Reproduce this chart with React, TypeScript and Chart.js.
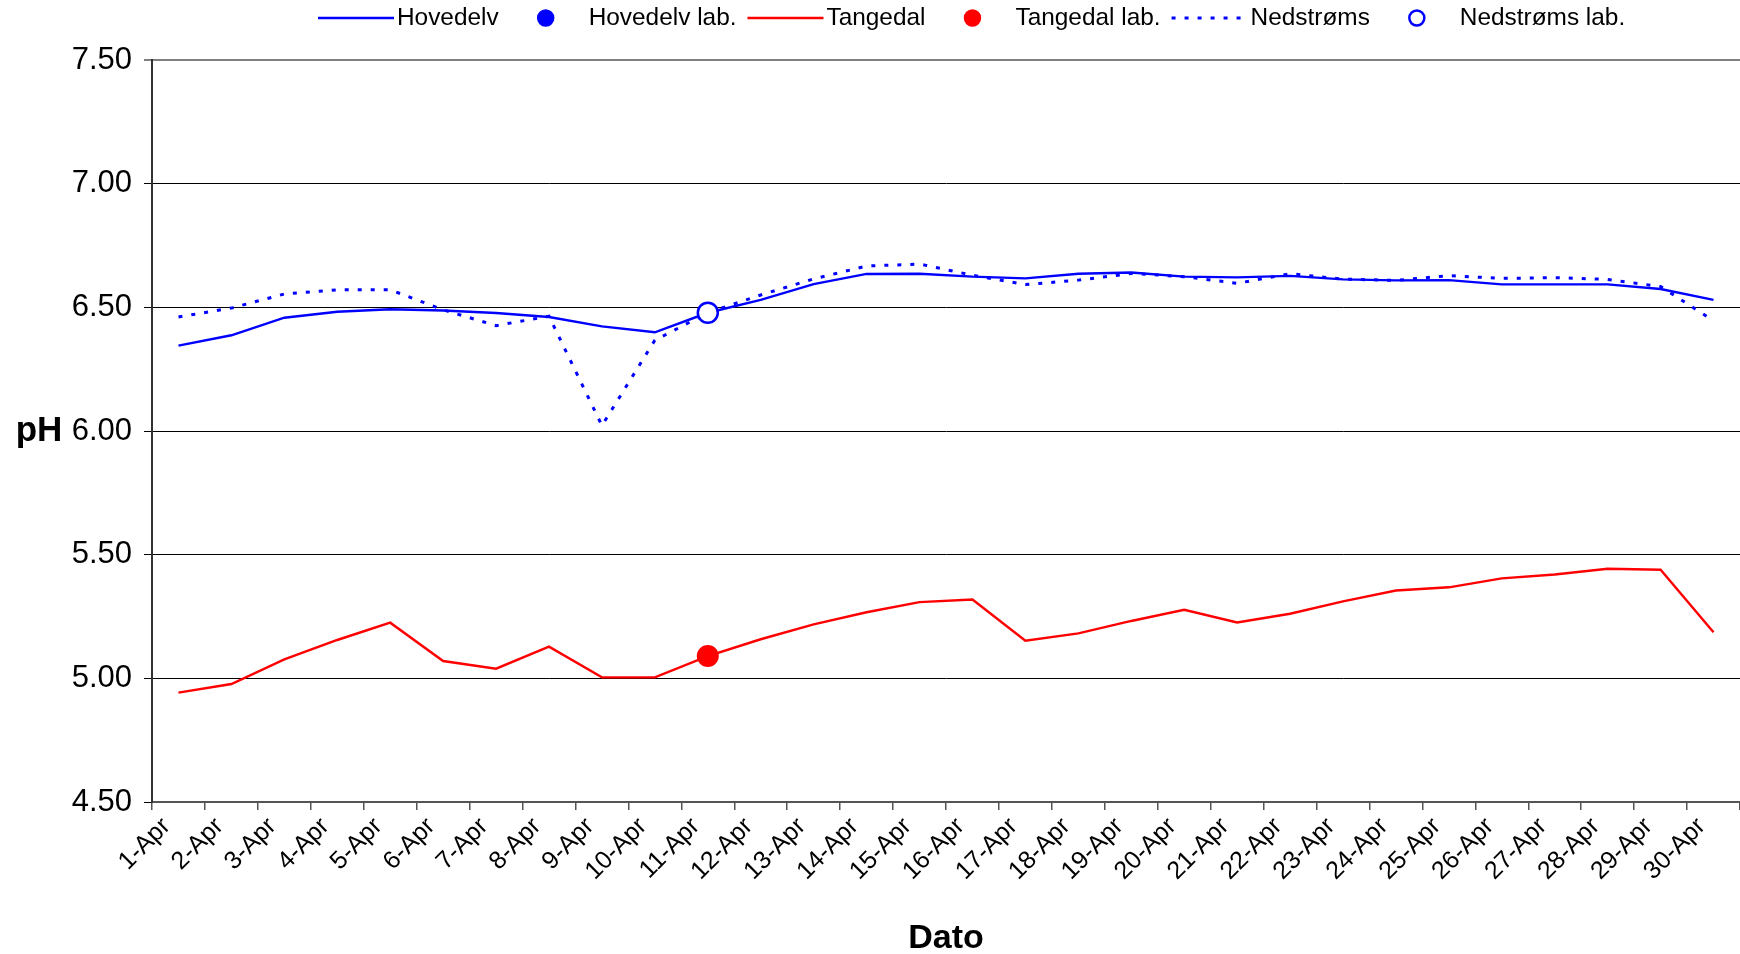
import React, { useEffect, useRef } from "react";
import { Chart, registerables } from "chart.js";

Chart.register(...registerables);

const categories = [
  "1-Apr", "2-Apr", "3-Apr", "4-Apr", "5-Apr", "6-Apr", "7-Apr", "8-Apr", "9-Apr", "10-Apr",
  "11-Apr", "12-Apr", "13-Apr", "14-Apr", "15-Apr", "16-Apr", "17-Apr", "18-Apr", "19-Apr", "20-Apr",
  "21-Apr", "22-Apr", "23-Apr", "24-Apr", "25-Apr", "26-Apr", "27-Apr", "28-Apr", "29-Apr", "30-Apr",
];

const hovedelv = [
  6.345, 6.387, 6.458, 6.482, 6.492, 6.487, 6.477, 6.461, 6.423, 6.399,
  6.478, 6.53, 6.594, 6.635, 6.636, 6.624, 6.617, 6.636, 6.641, 6.624,
  6.621, 6.627, 6.613, 6.609, 6.61, 6.593, 6.593, 6.593, 6.574, 6.53,
];

const hovedelvLab: (number | null)[] = categories.map(() => null);

const tangedal = [
  4.942, 4.977, 5.077, 5.155, 5.225, 5.07, 5.039, 5.128, 5.004, 5.004,
  5.09, 5.158, 5.218, 5.267, 5.308, 5.319, 5.152, 5.182, 5.232, 5.277,
  5.226, 5.261, 5.311, 5.355, 5.368, 5.404, 5.42, 5.443, 5.439, 5.186,
];

const tangedalLab: (number | null)[] = [
  null, null, null, null, null, null, null, null, null, null,
  5.09, null, null, null, null, null, null, null, null, null,
  null, null, null, null, null, null, null, null, null, null,
];

const nedstroms = [
  6.461, 6.497, 6.554, 6.571, 6.571, 6.49, 6.426, 6.464, 6.022, 6.367,
  6.478, 6.55, 6.615, 6.667, 6.675, 6.63, 6.592, 6.61, 6.637, 6.624,
  6.597, 6.636, 6.614, 6.609, 6.628, 6.617, 6.62, 6.613, 6.584, 6.446,
];

const nedstromsLab: (number | null)[] = [
  null, null, null, null, null, null, null, null, null, null,
  6.478, null, null, null, null, null, null, null, null, null,
  null, null, null, null, null, null, null, null, null, null,
];

const yMin = 4.5;
const yMax = 7.5;
const yStep = 0.5;

const FONT = "'Liberation Sans', Arial, sans-serif";

const customLegend = {
  id: "customLegend",
  afterDraw(chart: any) {
    const ctx = chart.ctx;
    ctx.save();
    ctx.font = `24.4px ${FONT}`;
    ctx.textBaseline = "middle";
    ctx.textAlign = "left";
    let x = 318;
    const y = 18;
    chart.data.datasets.forEach((ds: any) => {
      const sampleW = 76;
      if (ds.showLine === false) {
        ctx.beginPath();
        ctx.setLineDash([]);
        ctx.lineWidth = 2.5;
        ctx.arc(x + 36, y, 7.5, 0, Math.PI * 2);
        ctx.fillStyle = ds.pointBackgroundColor;
        ctx.fill();
        ctx.strokeStyle = ds.borderColor;
        ctx.stroke();
      } else {
        ctx.beginPath();
        ctx.setLineDash(ds.borderDash || []);
        ctx.lineWidth = ds.borderWidth;
        ctx.strokeStyle = ds.borderColor;
        ctx.moveTo(x, y);
        ctx.lineTo(x + sampleW, y);
        ctx.stroke();
        ctx.setLineDash([]);
      }
      ctx.fillStyle = "#000";
      const tx = x + sampleW + 3;
      ctx.fillText(ds.label, tx, y);
      x = tx + ctx.measureText(ds.label).width + 11;
    });
    ctx.restore();
  },
};

const yTitle = {
  id: "yTitle",
  afterDraw(chart: any) {
    const ctx = chart.ctx;
    const ys = chart.scales.y;
    ctx.save();
    ctx.font = `bold 35px ${FONT}`;
    ctx.fillStyle = "#000";
    ctx.textAlign = "center";
    ctx.textBaseline = "middle";
    ctx.fillText("pH", 39, ys.getPixelForValue(6));
    ctx.restore();
  },
};

const noPad = () => ({ left: 0, top: 0, right: 0, bottom: 0 });

export default function App() {
  const ref = useRef<HTMLCanvasElement | null>(null);

  useEffect(() => {
    if (!ref.current) return;
    const chart = new Chart(ref.current, {
      type: "line",
      data: {
        labels: categories,
        datasets: [
          {
            label: "Hovedelv",
            data: hovedelv,
            borderColor: "#0000FF",
            backgroundColor: "#0000FF",
            borderWidth: 2.4,
            pointRadius: 0,
            tension: 0,
            order: 5,
          },
          {
            label: "Hovedelv lab.",
            data: hovedelvLab,
            showLine: false,
            borderColor: "#0000FF",
            backgroundColor: "#0000FF",
            pointBackgroundColor: "#0000FF",
            pointBorderColor: "#0000FF",
            pointRadius: 10,
            borderWidth: 2.5,
            order: 2,
          },
          {
            label: "Tangedal",
            data: tangedal,
            borderColor: "#FF0000",
            backgroundColor: "#FF0000",
            borderWidth: 2.4,
            pointRadius: 0,
            tension: 0,
            order: 4,
          },
          {
            label: "Tangedal lab.",
            data: tangedalLab,
            showLine: false,
            borderColor: "#FF0000",
            backgroundColor: "#FF0000",
            pointBackgroundColor: "#FF0000",
            pointBorderColor: "#FF0000",
            pointRadius: 10,
            borderWidth: 2,
            order: 1,
          },
          {
            label: "Nedstrøms",
            data: nedstroms,
            borderColor: "#0000FF",
            backgroundColor: "#0000FF",
            borderWidth: 3,
            borderDash: [4, 9],
            pointRadius: 0,
            tension: 0,
            order: 3,
          },
          {
            label: "Nedstrøms lab.",
            data: nedstromsLab,
            showLine: false,
            borderColor: "#0000FF",
            backgroundColor: "#FFFFFF",
            pointBackgroundColor: "#FFFFFF",
            pointBorderColor: "#0000FF",
            pointRadius: 10,
            pointBorderWidth: 2.5,
            borderWidth: 2.5,
            order: 0,
          },
        ] as any,
      },
      options: {
        animation: false,
        responsive: false,
        devicePixelRatio: 1,
        layout: { autoPadding: false, padding: { top: 60, left: 0, right: 0, bottom: 0 } },
        plugins: {
          legend: { display: false },
          tooltip: { enabled: false },
        },
        scales: {
          x: {
            type: "category",
            offset: true,
            afterFit: (s: any) => {
              s.height = 152;
              s.paddingLeft = 0;
              s.paddingRight = 0;
              s.getPadding = noPad;
            },
            grid: {
              display: true,
              drawOnChartArea: false,
              drawTicks: true,
              tickLength: 8,
              offset: true,
              color: "#555",
              lineWidth: 1.5,
            },
            border: { display: true, color: "#555", width: 2 },
            ticks: {
              autoSkip: false,
              minRotation: 45,
              maxRotation: 45,
              labelOffset: -12,
              padding: 2,
              color: "#000",
              font: { family: FONT, size: 25 },
            },
            title: {
              display: true,
              text: "Dato",
              color: "#000",
              font: { family: FONT, size: 34, weight: "bold", lineHeight: 1.0 },
              padding: { top: 0, bottom: -2 },
            },
          },
          y: {
            min: yMin,
            max: yMax,
            afterFit: (s: any) => {
              s.width = 152;
              s.getPadding = () => ({ left: 0, top: s.paddingTop || 0, right: 0, bottom: s.paddingBottom || 0 });
            },
            grid: {
              color: (c: any) => (c.tick && c.tick.value === yMax ? "#808080" : "#000"),
              lineWidth: (c: any) => (c.tick && c.tick.value === yMax ? 2 : 1),
              drawTicks: true,
              tickLength: 8,
            },
            border: { display: true, color: "#333", width: 2 },
            ticks: {
              stepSize: yStep,
              padding: 12,
              color: "#000",
              font: { family: FONT, size: 31 },
              callback: (v: any) => Number(v).toFixed(2),
            },
          },
        },
      } as any,
      plugins: [customLegend, yTitle],
    });
    return () => chart.destroy();
  }, []);

  return (
    <div style={{ position: "absolute", left: 0, top: 0, width: 1740, height: 954, background: "#fff" }}>
      <canvas ref={ref} width={1740} height={954} style={{ width: 1740, height: 954 }} />
    </div>
  );
}
